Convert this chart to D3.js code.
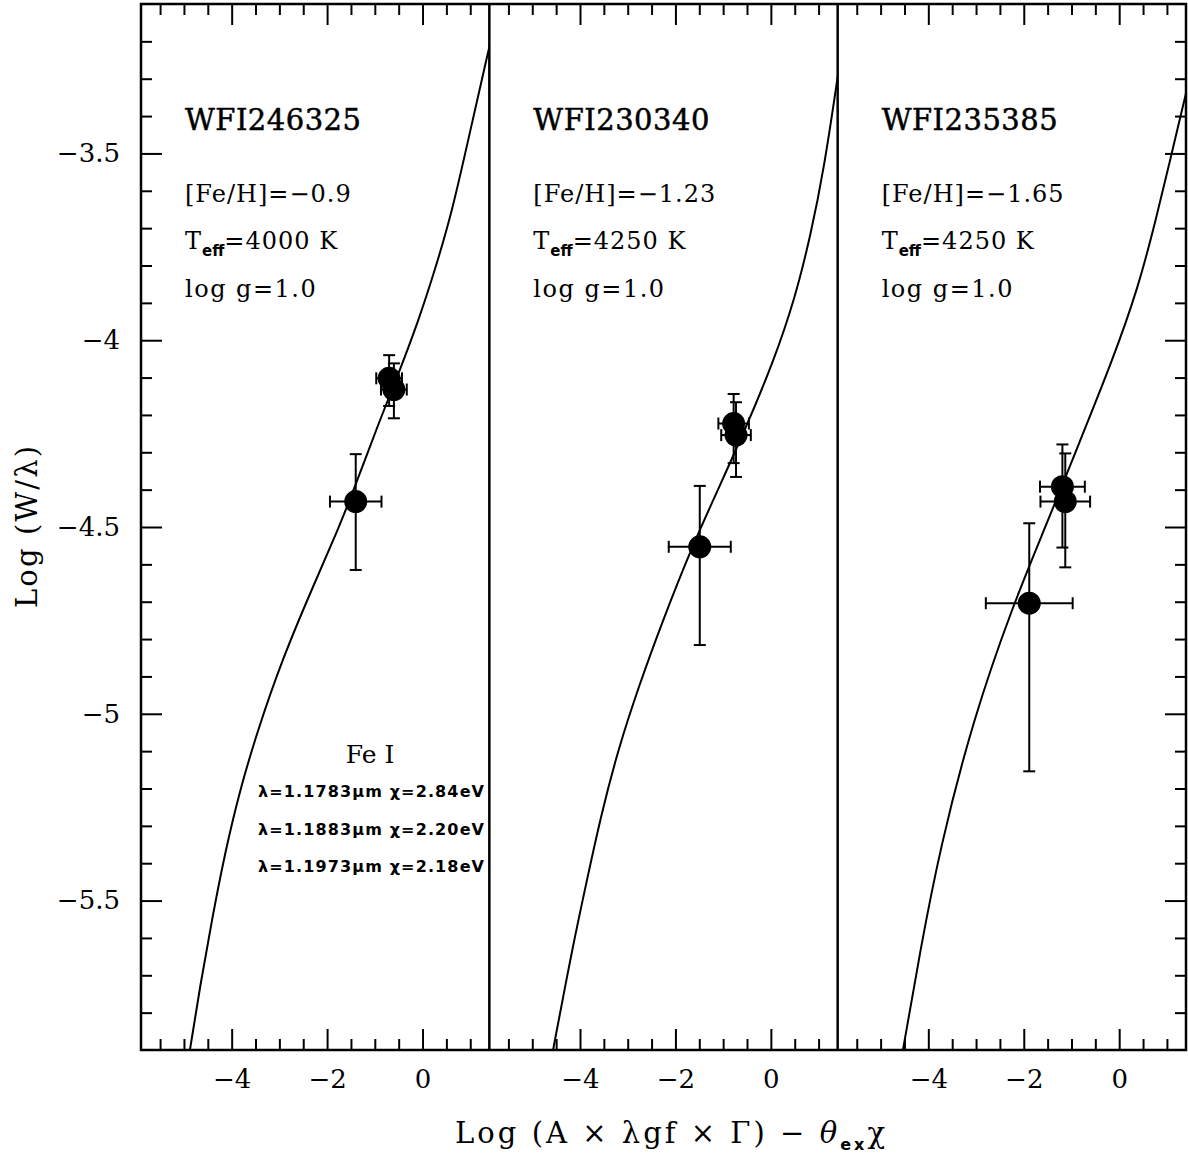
<!DOCTYPE html>
<html>
<head>
<meta charset="utf-8">
<script src="https://cdn.jsdelivr.net/npm/d3@7"></script>
<style>
  body { margin: 0; background: #fff; }
  svg { display: block; }
  .tick line { stroke: #000; stroke-width: 2px; }
  .tick text { font-family: "DejaVu Serif", serif; font-size: 26px; fill: #000; }
</style>
</head>
<body>
<div class="chart"></div>
<script>
// Panel labels (one per star)
var starNames = ["WFI246325", "WFI230340", "WFI235385"];
var feH = ["\u22120.9", "\u22121.23", "\u22121.65"];
var teff = [4000, 4250, 4250];
var logg = ["1.0", "1.0", "1.0"];

// Fe I lines listed in the first panel
var lineLambda = ["1.1783", "1.1883", "1.1973"];
var lineChi = ["2.84", "2.20", "2.18"];

// Measured points, one array per panel: x, y, x error, lower / upper y
var ptsX = [[-0.70, -0.60, -1.40], [-0.78, -0.73, -1.49], [-1.19, -1.13, -1.885]];
var ptsY = [[-4.102, -4.132, -4.432], [-4.223, -4.254, -4.553], [-4.392, -4.432, -4.704]];
var ptsXErr = [[0.27, 0.27, 0.54], [0.32, 0.31, 0.65], [0.47, 0.52, 0.91]];
var ptsYLo = [[-4.176, -4.209, -4.615], [-4.329, -4.366, -4.816], [-4.555, -4.608, -5.154]];
var ptsYHi = [[-4.040, -4.062, -4.305], [-4.144, -4.166, -4.390], [-4.279, -4.303, -4.490]];

// Curve of growth, [x, y]
var curve1 = [[-4.90, -5.92], [-4.874, -5.900], [-4.665, -5.731], [-4.414, -5.552], [-4.141, -5.372],
  [-3.827, -5.204], [-3.471, -5.051], [-2.947, -4.856], [-2.298, -4.660], [-1.774, -4.508],
  [-1.418, -4.393], [-0.894, -4.213], [-0.538, -4.101], [-0.078, -3.946], [0.279, -3.804],
  [0.614, -3.659], [0.991, -3.445], [1.368, -3.231], [1.45, -3.19]];
var curve2 = [[-4.59, -5.92], [-4.566, -5.900], [-4.147, -5.619], [-3.854, -5.445], [-3.561, -5.273],
  [-3.205, -5.097], [-2.765, -4.925], [-2.262, -4.749], [-1.655, -4.553], [-1.110, -4.401],
  [-0.482, -4.222], [0.042, -4.061], [0.503, -3.890], [0.838, -3.716], [1.110, -3.544],
  [1.403, -3.293], [1.45, -3.25]];
var curve3 = [[-4.56, -5.92], [-4.531, -5.900], [-4.175, -5.637], [-3.756, -5.359], [-3.065, -5.016],
  [-2.227, -4.709], [-1.536, -4.497], [-0.823, -4.270], [-0.153, -4.058], [0.391, -3.863],
  [0.768, -3.678], [1.082, -3.510], [1.250, -3.419], [1.418, -3.330], [1.45, -3.31]];
var curves = [curve1, curve2, curve3];

// Axis ranges and ticks
var xDomain = [-5.9, 1.4];
var yDomain = [-5.9, -3.1];
var xMajor = [-4, -2, 0];
var yMajor = [-5.5, -5, -4.5, -4, -3.5];

var cfg = {
  w: 1188, h: 1155,
  left: 141, top: 4, right: 1186, bottom: 1050,
  majorLen: 21, minorLen: 11,
  dotRadius: 11.5, capHalf: 6
};
var panelW = (cfg.right - cfg.left) / 3,
  panelH = cfg.bottom - cfg.top;

var xMinor = d3.range(-11, 3).map(function (d) { return d / 2; })
  .filter(function (d) { return xMajor.indexOf(d) < 0; });
var yMinor = d3.range(-58, -31).map(function (d) { return d / 10; })
  .filter(function (d) { return Math.round(d * 10) % 5 !== 0; });

var svg = d3.select(".chart").append("svg")
  .attr("width", cfg.w)
  .attr("height", cfg.h);

var x = d3.scaleLinear().domain(xDomain).range([0, panelW]);
var y = d3.scaleLinear().domain(yDomain).range([panelH, 0]);

// smoothed line through the read-off samples
var line = d3.line()
  .curve(d3.curveBasis)
  .x(function (d) { return x(d[0]); })
  .y(function (d) { return y(d[1]); });

var serif = "DejaVu Serif, serif";
var sans = "DejaVu Sans, sans-serif";
var numFmt = d3.format("");

starNames.forEach(function (name, i) {
  var g = svg.append("g")
    .attr("transform", "translate(" + (cfg.left + i * panelW) + "," + cfg.top + ")");

  // clip for the curve
  g.append("clipPath").attr("id", "clip" + i)
    .append("rect").attr("width", panelW).attr("height", panelH);

  //////////// ticks ////////////
  var bottomMinor = g.append("g").attr("transform", "translate(0," + panelH + ")")
    .call(d3.axisBottom(x).tickValues(xMinor).tickSize(-cfg.minorLen).tickFormat(""));
  var bottomMajor = g.append("g").attr("transform", "translate(0," + panelH + ")")
    .call(d3.axisBottom(x).tickValues(xMajor).tickSize(-cfg.majorLen).tickPadding(20).tickFormat(numFmt));
  var topMinor = g.append("g")
    .call(d3.axisTop(x).tickValues(xMinor).tickSize(-cfg.minorLen).tickFormat(""));
  var topMajor = g.append("g")
    .call(d3.axisTop(x).tickValues(xMajor).tickSize(-cfg.majorLen).tickFormat(""));
  [bottomMinor, bottomMajor, topMinor, topMajor].forEach(function (a) { a.select(".domain").remove(); });

  if (i === 0) {
    var lMinor = g.append("g").call(d3.axisLeft(y).tickValues(yMinor).tickSize(-cfg.minorLen).tickFormat(""));
    var lMajor = g.append("g").call(d3.axisLeft(y).tickValues(yMajor).tickSize(-cfg.majorLen).tickPadding(21).tickFormat(numFmt));
    lMinor.select(".domain").remove();
    lMajor.select(".domain").remove();
  }
  if (i === 2) {
    var rMinor = g.append("g").attr("transform", "translate(" + panelW + ",0)")
      .call(d3.axisRight(y).tickValues(yMinor).tickSize(-cfg.minorLen).tickFormat(""));
    var rMajor = g.append("g").attr("transform", "translate(" + panelW + ",0)")
      .call(d3.axisRight(y).tickValues(yMajor).tickSize(-cfg.majorLen).tickFormat(""));
    rMinor.select(".domain").remove();
    rMajor.select(".domain").remove();
  }

  //////////// curve ////////////
  g.append("path")
    .attr("clip-path", "url(#clip" + i + ")")
    .attr("d", line(curves[i]))
    .style("fill", "none")
    .style("stroke", "#000")
    .style("stroke-width", "2px");

  //////////// points with error bars ////////////
  var pts = ptsX[i].map(function (v, j) {
    return { x: v, y: ptsY[i][j], xe: ptsXErr[i][j], lo: ptsYLo[i][j], hi: ptsYHi[i][j] };
  });
  var eb = g.append("g").style("stroke", "#000").style("stroke-width", "2px");
  pts.forEach(function (p) {
    eb.append("line").attr("x1", x(p.x - p.xe)).attr("x2", x(p.x + p.xe)).attr("y1", y(p.y)).attr("y2", y(p.y));
    eb.append("line").attr("x1", x(p.x)).attr("x2", x(p.x)).attr("y1", y(p.lo)).attr("y2", y(p.hi));
    // caps
    [p.x - p.xe, p.x + p.xe].forEach(function (cx) {
      eb.append("line").attr("x1", x(cx)).attr("x2", x(cx))
        .attr("y1", y(p.y) - cfg.capHalf).attr("y2", y(p.y) + cfg.capHalf);
    });
    [p.lo, p.hi].forEach(function (cy) {
      eb.append("line").attr("y1", y(cy)).attr("y2", y(cy))
        .attr("x1", x(p.x) - cfg.capHalf).attr("x2", x(p.x) + cfg.capHalf);
    });
  });
  g.selectAll(".dot").data(pts).enter().append("circle")
    .attr("class", "dot")
    .attr("cx", function (d) { return x(d.x); })
    .attr("cy", function (d) { return y(d.y); })
    .attr("r", cfg.dotRadius)
    .style("fill", "#000");

  //////////// labels ////////////
  var tx = 44;
  g.append("text").attr("x", tx).attr("y", 126)
    .style("font-family", serif).style("font-size", "29px")
    .style("stroke", "#000").style("stroke-width", "0.5px")
    .attr("textLength", 176).attr("lengthAdjust", "spacing")
    .text(name);
  g.append("text").attr("x", tx).attr("y", 198)
    .style("font-family", serif).style("font-size", "24px").style("letter-spacing", "1px")
    .text("[Fe/H]=" + feH[i]);
  var t = g.append("text").attr("x", tx).attr("y", 245)
    .style("font-family", serif).style("font-size", "24px").style("letter-spacing", "1px");
  t.append("tspan").text("T");
  t.append("tspan").attr("dy", 7).style("font-family", sans).style("font-weight", "bold")
    .style("font-size", "15px").style("letter-spacing", "0px").text("eff");
  t.append("tspan").attr("dy", -7).text("=" + teff[i] + " K");
  g.append("text").attr("x", tx).attr("y", 293)
    .style("font-family", serif).style("font-size", "24px").style("letter-spacing", "1.5px")
    .text("log g=" + logg[i]);

  if (i === 0) {
    g.append("text").attr("x", 229).attr("y", 759)
      .attr("text-anchor", "middle")
      .style("font-family", serif).style("font-size", "25px")
      .text("Fe I");
    lineLambda.forEach(function (l, k) {
      g.append("text").attr("x", 117).attr("y", 793 + k * 37.5)
        .style("font-family", sans).style("font-weight", "bold").style("font-size", "16px")
        .attr("textLength", 226).attr("lengthAdjust", "spacing")
        .text("\u03bb=" + l + "\u03bcm \u03c7=" + lineChi[k] + "eV");
    });
  }
});

//////////// frame and dividers ////////////
svg.append("rect")
  .attr("x", cfg.left).attr("y", cfg.top)
  .attr("width", cfg.right - cfg.left).attr("height", panelH)
  .style("fill", "none").style("stroke", "#000").style("stroke-width", "2.5px");
[1, 2].forEach(function (k) {
  svg.append("line")
    .attr("x1", cfg.left + k * panelW).attr("x2", cfg.left + k * panelW)
    .attr("y1", cfg.top).attr("y2", cfg.bottom)
    .style("stroke", "#000").style("stroke-width", "2.5px");
});

//////////// axis titles ////////////
var xt = svg.append("text")
  .attr("x", 455).attr("y", 1143)
  .attr("textLength", 430).attr("lengthAdjust", "spacing")
  .style("font-family", serif).style("font-size", "29px");
xt.append("tspan").text("Log (A \u00d7 \u03bbgf \u00d7 \u0393) \u2212 ");
xt.append("tspan").style("font-style", "italic").text("\u03b8");
xt.append("tspan").attr("dy", 7).style("font-family", sans).style("font-weight", "bold")
  .style("font-size", "16px").text("ex");
xt.append("tspan").attr("dy", -7).text("\u03c7");

svg.append("text")
  .attr("transform", "translate(37," + (cfg.top + panelH / 2) + ") rotate(-90)")
  .attr("text-anchor", "middle")
  .attr("textLength", 162).attr("lengthAdjust", "spacing")
  .style("font-family", serif).style("font-size", "29px")
  .text("Log (W/\u03bb)");
</script>
</body>
</html>
